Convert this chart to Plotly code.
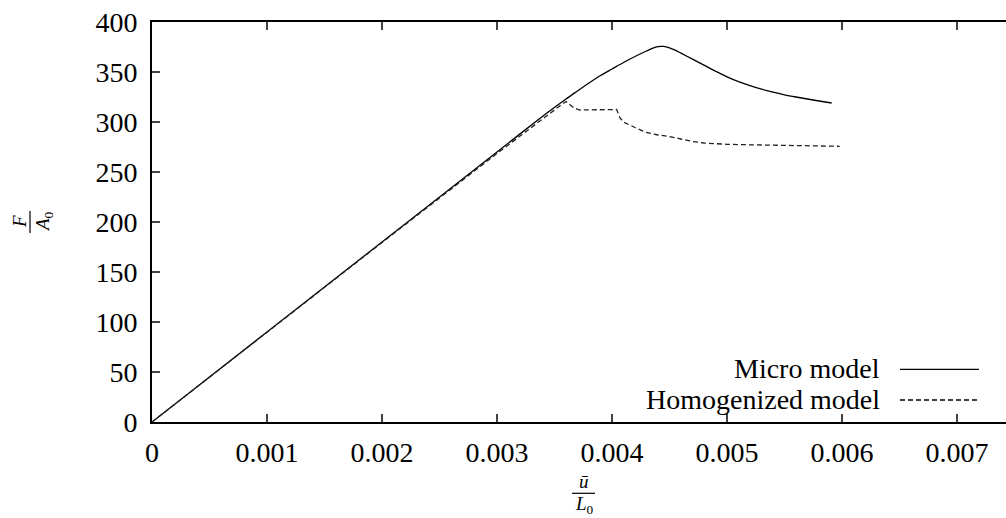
import plotly.graph_objects as go

# ---- data ----
micro_u = [0, 0.001, 0.002, 0.003, 0.0034, 0.0036, 0.0037, 0.0038, 0.0039, 0.0040,
           0.0041, 0.0042, 0.0043, 0.00435, 0.0044, 0.00445, 0.0045, 0.00455, 0.0046,
           0.0047, 0.0048, 0.0049, 0.0050, 0.0051, 0.0052, 0.0053, 0.0054, 0.0055,
           0.0056, 0.0057, 0.0058, 0.00591]
micro_f = [0, 90, 180, 270, 306, 323, 331, 339, 346.5, 353,
           359.5, 365.5, 371, 373.6, 375.4, 375.6, 374.2, 371.8, 368.8,
           362.8, 356.8, 350.8, 345.2, 340.4, 336.4, 332.8, 329.8, 327.2,
           325, 323, 321, 319]

homog_u = [0, 0.001, 0.002, 0.003, 0.0033, 0.0035, 0.00358, 0.0036, 0.00363, 0.00367,
           0.00372, 0.0038, 0.0039, 0.00404, 0.00407, 0.0041, 0.0042, 0.0043, 0.0044,
           0.0045, 0.0046, 0.0047, 0.0048, 0.0049, 0.0050, 0.0052, 0.0054, 0.0056,
           0.0058, 0.00598]
homog_f = [0, 90, 179.5, 268.5, 295, 312.5, 319, 320.5, 318, 314,
           312, 312, 312.3, 312.5, 304, 300, 294.5, 289.5, 287,
           285.5, 283, 280.5, 279, 278.2, 277.7, 277.2, 276.8, 276.3,
           275.9, 275.7]

x_range_max = 0.0075
x_ticks = [0, 0.001, 0.002, 0.003, 0.004, 0.005, 0.006, 0.007]
x_tick_labels = ["0", "0.001", "0.002", "0.003", "0.004", "0.005", "0.006", "0.007"]
y_ticks = [0, 50, 100, 150, 200, 250, 300, 350, 400]
y_tick_labels = [str(v) for v in y_ticks]

series_names = ["Micro model", "Homogenized model"]

# ---- layout geometry (plot box runs past the right edge of the 1006 px page) ----
H = 518
ML, MT, MB, MR = 152, 22, 96, 0
PX_PER_UNIT = 115000.0
PW = x_range_max * PX_PER_UNIT
W = int(round(ML + PW + MR))
PW = W - ML - MR
PH = H - MT - MB

def xp(px):
    return (px - ML) / PW

def yp(py):
    return (H - MB - py) / PH

FONT = "Liberation Serif, Times New Roman, serif"

fig = go.Figure()
fig.add_trace(go.Scatter(x=micro_u, y=micro_f, mode="lines", name=series_names[0],
                         line=dict(color="black", width=1.3, shape="spline", smoothing=0.6),
                         showlegend=False, hoverinfo="skip"))
fig.add_trace(go.Scatter(x=homog_u, y=homog_f, mode="lines", name=series_names[1],
                         line=dict(color="#222", width=1.3, dash="5px,3px"),
                         showlegend=False, hoverinfo="skip"))

axis_common = dict(showgrid=False, zeroline=False, showline=True, linecolor="black",
                   linewidth=2, ticks="inside", ticklen=8, tickwidth=1.5,
                   tickcolor="#444", tickfont=dict(family=FONT, size=28, color="black"))

fig.update_xaxes(range=[0, PW / PX_PER_UNIT], tickvals=x_ticks, ticktext=x_tick_labels,
                 mirror="ticks", ticklabelstandoff=4, **axis_common)
fig.update_yaxes(range=[0, 400], tickvals=y_ticks, ticktext=y_tick_labels,
                 mirror="ticks", ticklabelstandoff=7, **axis_common)

annotations = []
shapes = []

# legend (text on the left, sample on the right)
leg_rows = [(369.3, "solid"), (400.0, "5px,3px")]
for (py, dash), name in zip(leg_rows, series_names):
    annotations.append(dict(xref="paper", yref="paper", x=xp(882), y=yp(py - 1),
                            text=name, showarrow=False, xanchor="right", yanchor="middle",
                            font=dict(family=FONT, size=28, color="black")))
    shapes.append(dict(type="line", xref="paper", yref="paper",
                       x0=xp(900), x1=xp(979), y0=yp(py), y1=yp(py),
                       line=dict(color="black", width=1.3, dash=dash)))

# y-axis label: F / A0 (rotated fraction)
annotations.append(dict(xref="paper", yref="paper", x=xp(19), y=yp(222), text="<i>F</i>",
                        showarrow=False, textangle=-90, xanchor="center", yanchor="middle",
                        font=dict(family=FONT, size=19, color="black")))
annotations.append(dict(xref="paper", yref="paper", x=xp(44), y=yp(222),
                        text="<i>A</i><sub>0</sub>",
                        showarrow=False, textangle=-90, xanchor="center", yanchor="middle",
                        font=dict(family=FONT, size=19, color="black")))
shapes.append(dict(type="line", xref="paper", yref="paper", x0=xp(30), x1=xp(30),
                   y0=yp(211), y1=yp(233), line=dict(color="black", width=1.2)))

# x-axis label: u-bar / L0
annotations.append(dict(xref="paper", yref="paper", x=xp(583.5), y=yp(481), text="<i>ū</i>",
                        showarrow=False, xanchor="center", yanchor="middle",
                        font=dict(family=FONT, size=19, color="black")))
annotations.append(dict(xref="paper", yref="paper", x=xp(584), y=yp(505),
                        text="<i>L</i><sub>0</sub>",
                        showarrow=False, xanchor="center", yanchor="middle",
                        font=dict(family=FONT, size=19, color="black")))
shapes.append(dict(type="line", xref="paper", yref="paper", x0=xp(572), x1=xp(595),
                   y0=yp(493.3), y1=yp(493.3), line=dict(color="black", width=1.2)))

fig.update_layout(width=W, height=H, margin=dict(l=ML, r=MR, t=MT, b=MB, autoexpand=False),
                  paper_bgcolor="white", plot_bgcolor="white",
                  annotations=annotations, shapes=shapes, showlegend=False)

fig.write_html("out.html",
               config={"displayModeBar": False, "staticPlot": True},
               post_script="document.body.style.margin='0';"
                           "document.body.style.overflow='hidden';"
                           "document.documentElement.style.overflow='hidden';")
